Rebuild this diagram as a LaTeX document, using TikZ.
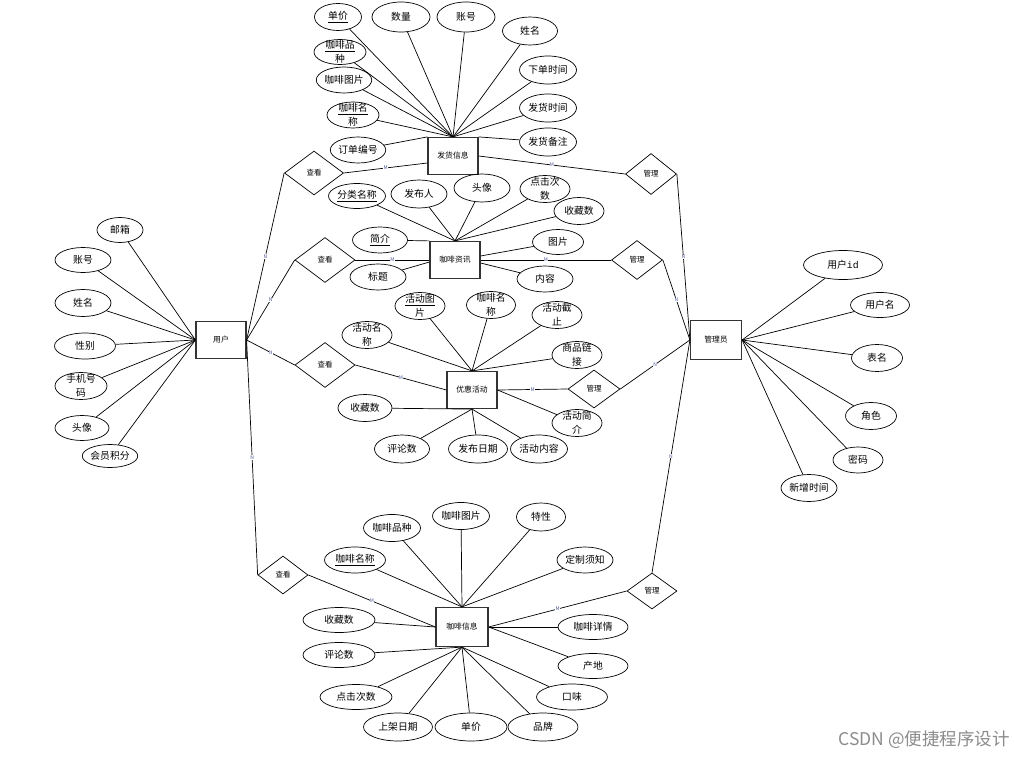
\documentclass[tikz,border=0pt]{standalone}
\usepackage{fontspec}
\setmainfont{Noto Sans CJK SC}
\newfontfamily\monof{Liberation Mono}
\usetikzlibrary{shapes.geometric}
\begin{document}
\begin{tikzpicture}[x=1pt,y=-1pt,
  attr/.style={ellipse,draw,line width=0.7pt,inner sep=0pt,font=\fontsize{9.8}{12.5}\selectfont},
  sz/.style 2 args={minimum width=#1pt,minimum height=#2pt},
  wrap/.style={label={[align=center,font=\fontsize{9.8}{14}\selectfont]center:#1}},
  ent/.style={rectangle,draw=black!80,line width=1.2pt,minimum width=50pt,minimum height=37pt,inner sep=0pt,font=\fontsize{7.8}{9}\selectfont},
  rel/.style={diamond,draw,line width=0.7pt,inner sep=0pt,font=\fontsize{7.5}{9}\selectfont},
  lnk/.style={line width=0.7pt},
  lbl/.style={font=\fontsize{5}{5}\selectfont,text={rgb,255:red,80;green,90;blue,150},fill=white,inner sep=0.3pt,pos=0.5},
]
\useasboundingbox[fill=white] (0,0) rectangle (1014,757);

% ---------- entities ----------
\node[ent] (fh) at (453,156) {发货信息};
\node[ent] (zx) at (455,260) {咖啡资讯};
\node[ent] (yh) at (472,390) {优惠活动};
\node[ent,minimum width=52pt,minimum height=39pt] (kf) at (462,627) {咖啡信息};
\node[ent] (yu) at (221,340) {用户};
\node[ent,minimum width=51pt,minimum height=39pt] (gl) at (716,340) {管理员};

% ---------- relationships ----------
\node[rel,sz={59}{44}] (r1) at (314,173) {查看};
\node[rel,sz={60}{45}] (r2) at (325,260) {查看};
\node[rel,sz={60}{45}] (r3) at (325,365) {查看};
\node[rel,sz={50}{38}] (r4) at (283,575) {查看};
\node[rel,sz={51}{41}] (g1) at (651,174) {管理};
\node[rel,sz={51}{39}] (g2) at (637,260) {管理};
\node[rel,sz={52}{38}] (g3) at (594,389) {管理};
\node[rel,sz={50}{36}] (g4) at (652,591) {管理};

% ---------- 发货信息 attributes ----------
\node[attr,sz={47}{27}] (a1) at (338,17) {\underline{单价}};
\node[attr,sz={58}{30}] (a2) at (401,17) {数量};
\node[attr,sz={58}{30}] (a3) at (466,17) {账号};
\node[attr,sz={55}{28}] (a4) at (530,31) {姓名};
\node[attr,sz={57}{28}] (a5) at (548,70) {下单时间};
\node[attr,sz={57}{28}] (a6) at (548,108) {发货时间};
\node[attr,sz={57}{28}] (a7) at (548,142) {发货备注};
\node[attr,sz={52}{25},wrap={\underline{咖啡品}\\种}] (a8) at (340,52) {};
\node[attr,sz={55}{26}] (a9) at (344,80) {咖啡图片};
\node[attr,sz={52}{26},wrap={\underline{咖啡名}\\称}] (a10) at (353,115) {};
\node[attr,sz={55}{26}] (a11) at (358,150) {订单编号};
\foreach \n in {a1,a2,a3,a4,a5,a6,a8,a9,a10} \draw[lnk] (\n) -- (fh.north);
\draw[lnk] (a7) -- (fh.north east);
\draw[lnk] (a11) -- (fh.north west);

% ---------- 咖啡资讯 attributes ----------
\node[attr,sz={57}{25}] (b1) at (357,196) {\underline{分类名称}};
\node[attr,sz={56}{28}] (b2) at (419,194) {发布人};
\node[attr,sz={56}{28}] (b3) at (482,188) {头像};
\node[attr,sz={50}{27},wrap={点击次\\数}] (b4) at (545,189) {};
\node[attr,sz={50}{27}] (b5) at (579,211) {收藏数};
\node[attr,sz={55}{26}] (b6) at (380,240) {\underline{简介}};
\node[attr,sz={56}{26}] (b7) at (378,277) {标题};
\node[attr,sz={51}{25}] (b8) at (558,242) {图片};
\node[attr,sz={56}{26}] (b9) at (545,279) {内容};
\foreach \n in {b1,b2,b3,b4,b5} \draw[lnk] (\n) -- (zx.north);
\draw[lnk] (b6) -- (zx.north west);
\draw[lnk] (b7) -- ([yshift=-2pt]zx.west);
\draw[lnk] (b8) -- ([yshift=4pt]zx.east);
\draw[lnk] (b9) -- ([yshift=-3pt]zx.east);

% ---------- 优惠活动 attributes ----------
\node[attr,sz={50}{27},wrap={\underline{活动图}\\片}] (c1) at (420,306) {};
\node[attr,sz={49}{27},wrap={咖啡名\\称}] (c2) at (491,305) {};
\node[attr,sz={50}{27},wrap={活动截\\止}] (c3) at (557,315) {};
\node[attr,sz={50}{27},wrap={活动名\\称}] (c4) at (367,335) {};
\node[attr,sz={50}{27},wrap={商品链\\接}] (c5) at (577,355) {};
\node[attr,sz={54}{27}] (c6) at (365,408) {收藏数};
\node[attr,sz={50}{27},wrap={活动简\\介}] (c7) at (577,423) {};
\node[attr,sz={55}{28}] (c8) at (402,449) {评论数};
\node[attr,sz={59}{28}] (c9) at (478,449) {发布日期};
\node[attr,sz={57}{28}] (c10) at (539,449) {活动内容};
\foreach \n in {c1,c2,c3,c4,c5} \draw[lnk] (\n) -- (yh.north);
\foreach \n in {c6,c8,c9,c10} \draw[lnk] (\n) -- (yh.south);
\draw[lnk] (c7) -- (yh.east);

% ---------- 咖啡信息 attributes ----------
\node[attr,sz={57}{27}] (d1) at (392,528) {咖啡品种};
\node[attr,sz={57}{27}] (d2) at (461,516) {咖啡图片};
\node[attr,sz={49}{28}] (d3) at (541,517) {特性};
\node[attr,sz={61}{26}] (d4) at (355,560) {\underline{咖啡名称}};
\node[attr,sz={56}{26}] (d5) at (585,560) {定制须知};
\node[attr,sz={72}{25}] (d6) at (339,620) {收藏数};
\node[attr,sz={72}{25}] (d7) at (339,655) {评论数};
\node[attr,sz={72}{25}] (d8) at (356,697) {点击次数};
\node[attr,sz={69}{28}] (d9) at (398,727) {上架日期};
\node[attr,sz={72}{28}] (d10) at (471,727) {单价};
\node[attr,sz={70}{28}] (d11) at (543,727) {品牌};
\node[attr,sz={71}{26}] (d12) at (572,697) {口味};
\node[attr,sz={70}{25}] (d13) at (593,666) {产地};
\node[attr,sz={70}{25}] (d14) at (593,627) {咖啡详情};
\foreach \n in {d1,d2,d3,d4,d5} \draw[lnk] (\n) -- (kf.north);
\foreach \n in {d7,d8,d9,d10,d11,d12} \draw[lnk] (\n) -- (kf.south);
\draw[lnk] (d6) -- (kf.west);
\draw[lnk] (d13) -- (kf.east);
\draw[lnk] (d14) -- (kf.east);

% ---------- 用户 attributes ----------
\node[attr,sz={46}{25}] (e1) at (120,230) {邮箱};
\node[attr,sz={56}{25}] (e2) at (83,260) {账号};
\node[attr,sz={56}{27}] (e3) at (83,303) {姓名};
\node[attr,sz={61}{26}] (e4) at (85,346) {性别};
\node[attr,sz={52}{27},wrap={手机号\\码}] (e5) at (81,386) {};
\node[attr,sz={54}{25}] (e6) at (82,428) {头像};
\node[attr,sz={55}{23}] (e7) at (110,456) {会员积分};
\foreach \n in {e1,e2,e3,e4,e5,e6,e7} \draw[lnk] (\n) -- (yu.west);

% ---------- 管理员 attributes ----------
\node[attr,sz={79}{29}] (f1) at (843,265) {用户{\monof id}};
\node[attr,sz={59}{25}] (f2) at (880,305) {用户名};
\node[attr,sz={51}{27}] (f3) at (877,358) {表名};
\node[attr,sz={51}{27}] (f4) at (871,416) {角色};
\node[attr,sz={50}{26}] (f5) at (858,460) {密码};
\node[attr,sz={56}{27}] (f6) at (809,488) {新增时间};
\foreach \n in {f1,f2,f3,f4,f5,f6} \draw[lnk] (\n) -- (gl.east);

% ---------- relationship connectors ----------
\draw[lnk] (yu.east) -- node[lbl]{N} (r1.west);
\draw[lnk] (r1.east) -- node[lbl]{M} ([yshift=-7pt]fh.west);
\draw[lnk] (yu.east) -- node[lbl]{N} (r2.west);
\draw[lnk] (r2.east) -- node[lbl]{M} (zx.west);
\draw[lnk] (yu.east) -- node[lbl]{N} (r3.west);
\draw[lnk] (r3.east) -- node[lbl]{M} (yh.west);
\draw[lnk] (yu.east) -- node[lbl]{N} (r4.west);
\draw[lnk] (r4.east) -- node[lbl]{M} (kf.west);

\draw[lnk] (gl.west) -- node[lbl]{N} (g1.east);
\draw[lnk] (g1.west) -- node[lbl]{M} (fh.east);
\draw[lnk] (gl.west) -- node[lbl]{N} (g2.east);
\draw[lnk] (g2.west) -- node[lbl]{M} (zx.east);
\draw[lnk] (gl.west) -- node[lbl]{N} (g3.east);
\draw[lnk] (g3.west) -- node[lbl]{M} (yh.east);
\draw[lnk] (gl.west) -- node[lbl]{N} (g4.north);
\draw[lnk] (g4.west) -- node[lbl]{M} (kf.east);

% ---------- watermark ----------
\node[anchor=east,text=black!45,font=\fontsize{17.5}{18}\selectfont,inner sep=0pt] (wm) at (1010,740) {CSDN @便捷程序设计};
\end{tikzpicture}
\end{document}
